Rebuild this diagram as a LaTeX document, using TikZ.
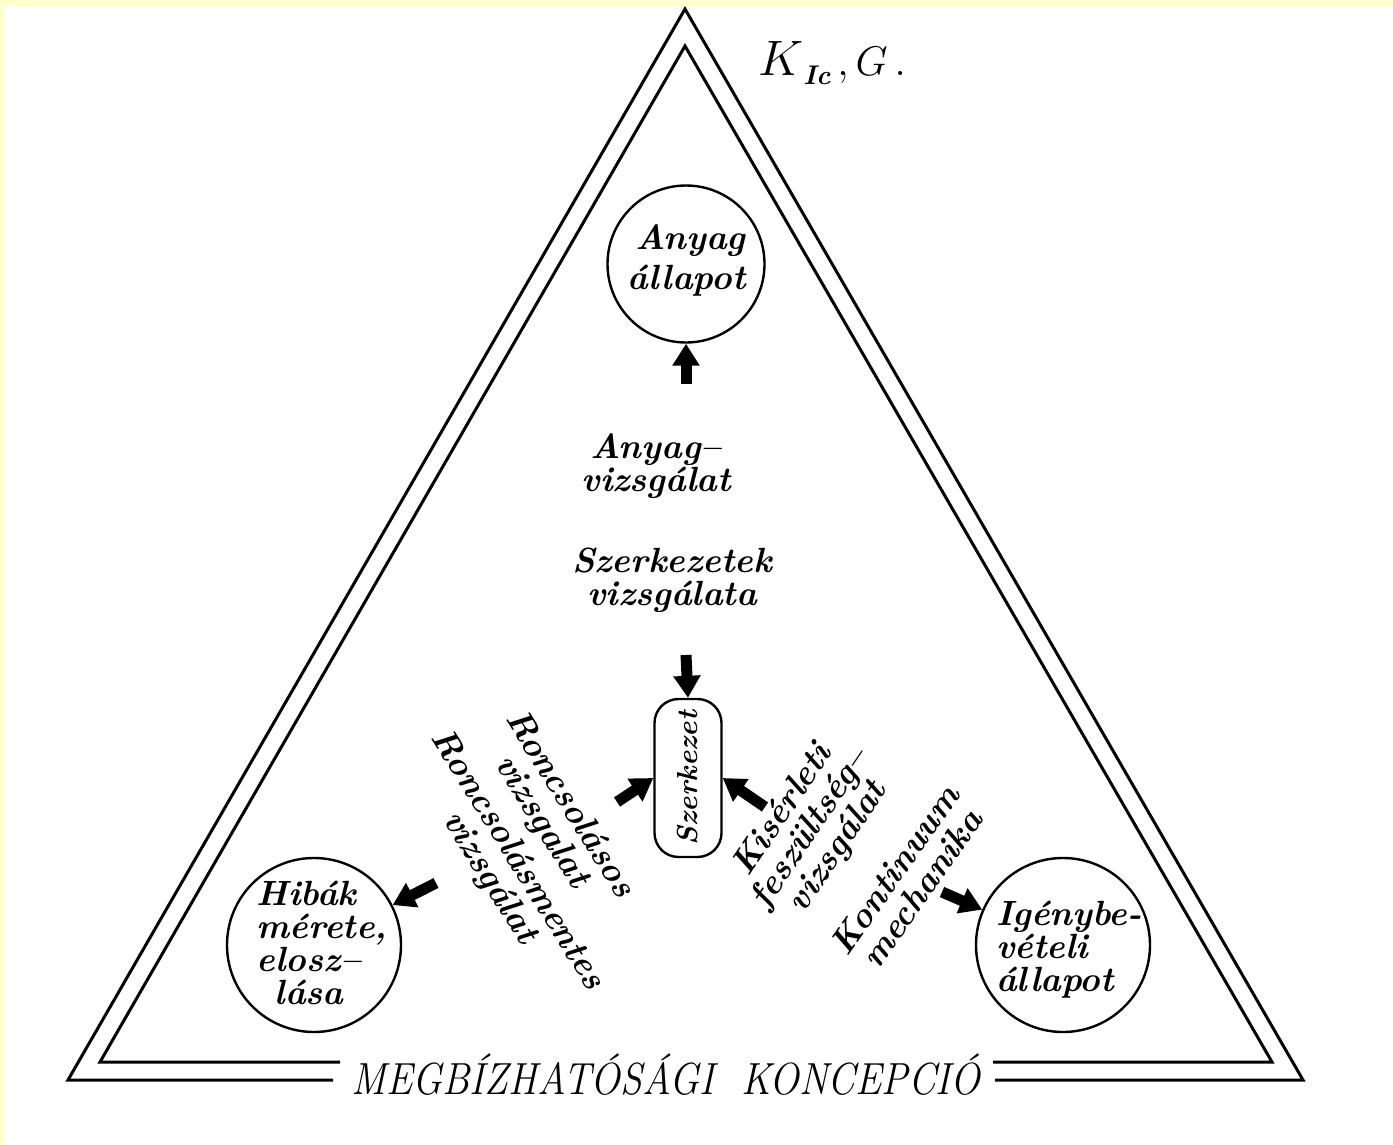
\documentclass[tikz,border=0pt]{standalone}
\usepackage{fontspec}
\usetikzlibrary{arrows.meta}
\definecolor{bgyellow}{RGB}{255,255,204}
\begin{document}
\begin{tikzpicture}[x=0.5pt,y=-0.5pt,
  tri/.style={line width=1.5pt, line join=miter},
  ring/.style={circle, draw, line width=1.2pt, inner sep=0pt},
  lbl/.style={font=\fontsize{17.5}{16.5}\selectfont\bfseries\itshape, align=center, inner sep=0pt},
  fat/.style={line width=5.5pt, -{Triangle[length=11pt,width=13pt]}},
]
\fill[bgyellow] (0,0) rectangle (1393,1145);
\fill[white] (4,6) rectangle (1393,1145);
\useasboundingbox (0,0) rectangle (1393,1145);

% triangles
\draw[tri] (333,1080) -- (68,1080) -- (685,9) -- (1303,1080) -- (995,1080);
\draw[tri] (340,1062) -- (100,1062) -- (685,46) -- (1272,1062) -- (993,1062);

% title
\node[anchor=base, inner sep=0pt] (title) at (666,1094)
  {\fontsize{22.5}{22.5}\selectfont\itshape\scalebox{0.88}[1]{MEGBÍZHATÓSÁGI\ \ KONCEPCIÓ}};

% K_Ic, G.
\node[anchor=base west, inner sep=0pt] (kic) at (758,76)
  {{\fontsize{30}{30}\selectfont$K$}\raisebox{-4.5pt}{\fontsize{13.5}{13.5}\selectfont\bfseries\itshape Ic}{\fontsize{20}{20}\selectfont$\,,G\,.$}};

% circles
\node[ring, minimum size=78.5pt] (anyag) at (686,264) {};
\node[lbl, font=\fontsize{17.5}{20}\selectfont\bfseries\itshape, align=right] (anyagt) at (686.5,260) {Anyag\\állapot};

\node[ring, minimum size=87pt] (hib) at (314,945) {};
\node[lbl, align=left] (hibt) at (322,943) {Hibák\\mérete,\\elosz--\\\hspace*{9pt}lása};

\node[ring, minimum size=87pt] (igeny) at (1063,945) {};
\node[lbl, align=left] (igenyt) at (1069,950) {Igénybe-\\vételi\\állapot};

% central box
\node[draw, line width=1.2pt, rounded corners=12pt, minimum width=33.5pt, minimum height=79pt, inner sep=0pt] (sz) at (688,778)
  {\rotatebox{90}{\fontsize{14.5}{14.5}\selectfont\bfseries\itshape Szerkezet}};

% labels
\node[lbl] (anyv) at (656,466) {Anyag--\\vizsgálat};
\node[lbl] (szv) at (672,580) {Szerkezetek\\vizsgálata};
\node[lbl, rotate=-58] (ronc1) at (555,813) {Roncsolásos\\vizsgalat};
\node[lbl, rotate=-58] (ronc2) at (503,869) {Roncsolásmentes\\vizsgálat};
\node[lbl, rotate=56] (kis) at (811,829) {Kisérleti\\feszültség--\\vizsgálat};
\node[lbl, rotate=55] (kont) at (908,879) {Kontinuum\\mechanika};

% arrows
\coordinate (tup) at (686,384);
\coordinate (tdown) at (686,655);
\coordinate (tl) at (617,802);
\coordinate (tr) at (765,807);
\coordinate (th) at (436,883);
\coordinate (ti) at (942,892);
\draw[fat] (tup) -- (anyag);
\draw[fat] (tdown) -- (sz.north);
\draw[fat] (tl) -- (sz.west);
\draw[fat] (tr) -- (sz.east);
\draw[fat] (th) -- (hib);
\draw[fat] (ti) -- (igeny);
\end{tikzpicture}
\end{document}
